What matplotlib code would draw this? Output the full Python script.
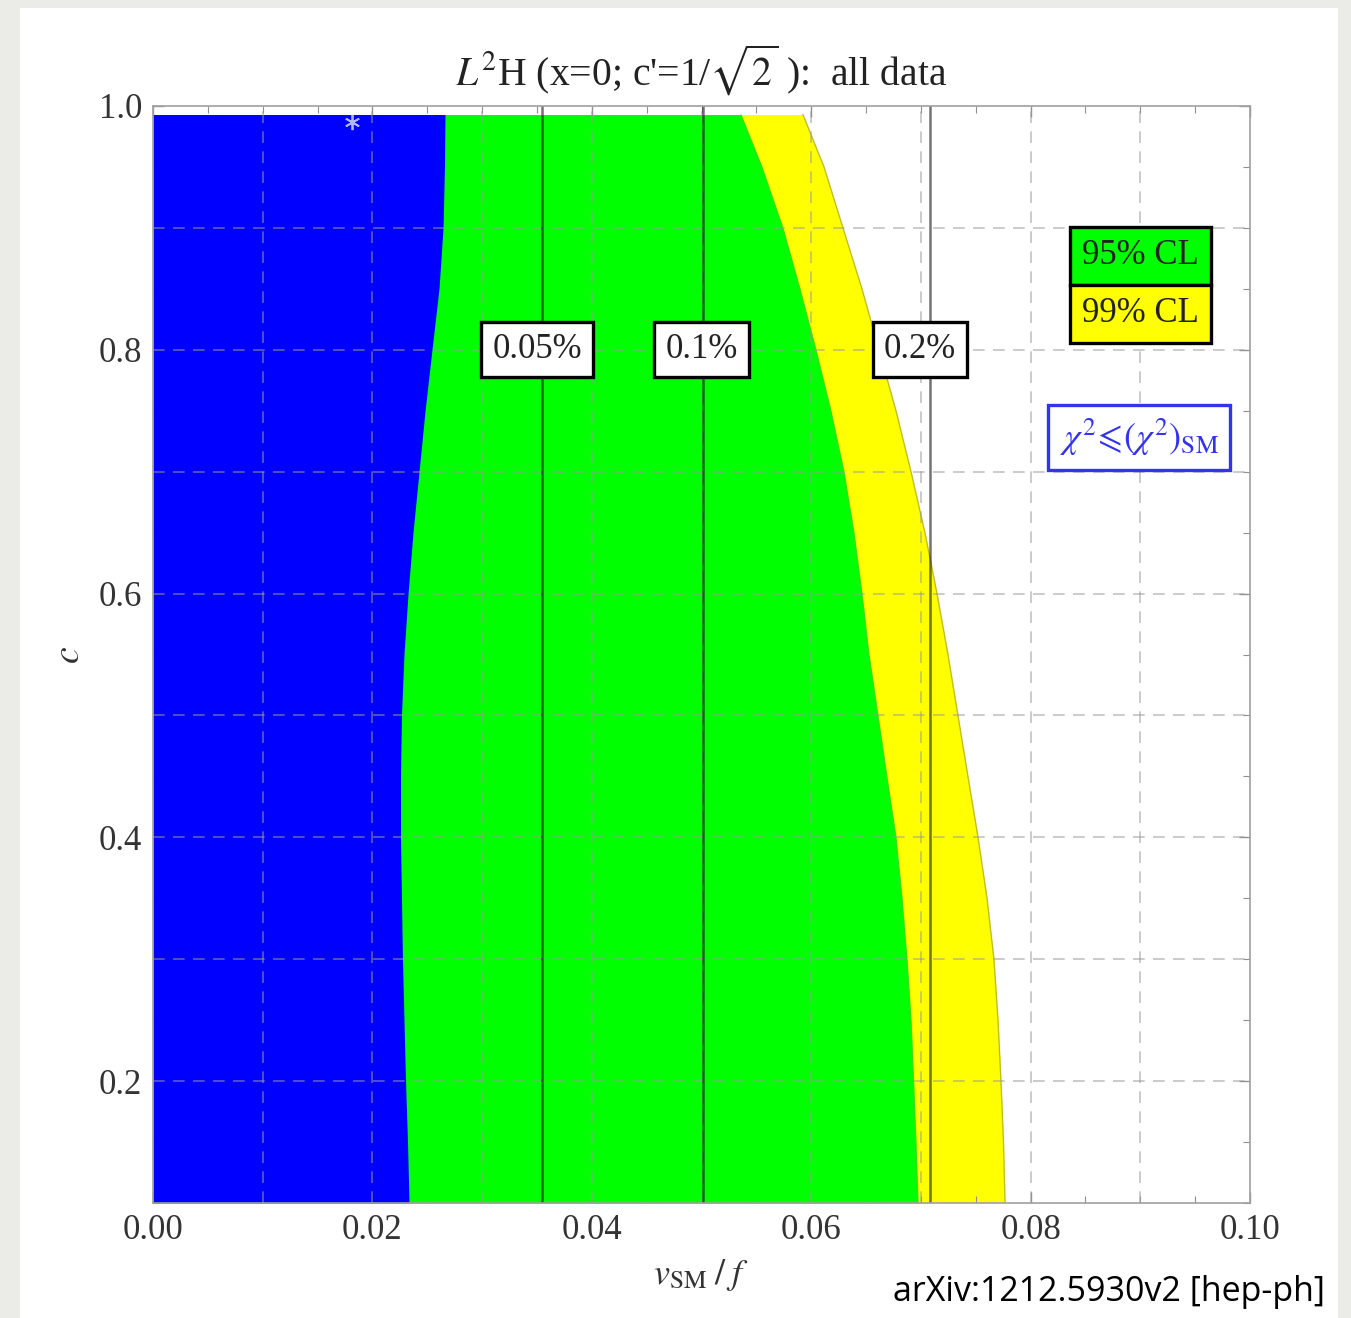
import numpy as np
import matplotlib
matplotlib.use("Agg")
import matplotlib.pyplot as plt
from matplotlib.patches import Rectangle
from matplotlib.ticker import MultipleLocator, FormatStrFormatter

plt.rcParams['font.family'] = ['Liberation Serif', 'DejaVu Serif']
plt.rcParams['mathtext.fontset'] = 'stix'

# Region with chi^2 <= (chi^2)_SM : right edge v_SM/f as a function of c
c_sm = [0.993, 0.95, 0.90, 0.85, 0.80, 0.75, 0.70, 0.65, 0.60, 0.55,
        0.50, 0.45, 0.40, 0.35, 0.30, 0.25, 0.20, 0.15, 0.10]
x_sm = [0.02662, 0.02657, 0.02644, 0.02607, 0.02543, 0.02480, 0.02425, 0.02370, 0.02325, 0.02288,
        0.02265, 0.02256, 0.02256, 0.02265, 0.02274, 0.02288, 0.02302, 0.02320, 0.02334]

# 95% CL allowed region : right edge
c_95 = [0.993, 0.95, 0.90, 0.85, 0.80, 0.75, 0.70, 0.65, 0.60, 0.55,
        0.50, 0.45, 0.40, 0.35, 0.30, 0.25, 0.20, 0.15, 0.10]
x_95 = [0.05360, 0.05552, 0.05743, 0.05898, 0.06044, 0.06180, 0.06299, 0.06390, 0.06463, 0.06527,
        0.06609, 0.06690, 0.06773, 0.06828, 0.06873, 0.06910, 0.06933, 0.06955, 0.06974]

# 99% CL allowed region : right edge
c_99 = [0.993, 0.95, 0.90, 0.85, 0.80, 0.75, 0.70, 0.65, 0.60, 0.55,
        0.50, 0.45, 0.40, 0.35, 0.30, 0.25, 0.20, 0.15, 0.10]
x_99 = [0.05925, 0.06117, 0.06290, 0.06463, 0.06618, 0.06773, 0.06910, 0.07037, 0.07147, 0.07247,
        0.07338, 0.07429, 0.07521, 0.07603, 0.07666, 0.07703, 0.07730, 0.07753, 0.07767]

# Fine-tuning contours (vertical) and their labels
tuning_x = [0.0355, 0.0501, 0.0708]
tuning_labels = ['0.05%', '0.1%', '0.2%']
tuning_label_x = [0.0350, 0.0500, 0.0699]
tuning_label_c = 0.80

# Best-fit point
best_x, best_c = 0.0181, 0.987

x_ticks = [0.00, 0.02, 0.04, 0.06, 0.08, 0.10]
c_ticks = [0.2, 0.4, 0.6, 0.8, 1.0]

W, H = 1351, 1318
fig = plt.figure(figsize=(W / 100, H / 100), dpi=100)
fig.patch.set_facecolor('#ebebe7')
fig.add_artist(Rectangle((20 / W, 0), (1338 - 20) / W, (H - 8) / H,
                         transform=fig.transFigure, facecolor='white',
                         edgecolor='none', zorder=0))

ax = fig.add_axes([153 / W, (H - 1203) / H, (1250 - 153) / W, (1203 - 106) / H])
ax.set_xlim(0.0, 0.10)
ax.set_ylim(0.1, 1.0)

ax.fill_betweenx(c_99, 0, x_99, color='#ffff00', lw=0, zorder=1)
ax.fill_betweenx(c_95, 0, x_95, color='#00ff00', lw=0, zorder=2)
ax.fill_betweenx(c_sm, 0, x_sm, color='#0000ff', lw=0, zorder=3)
ax.plot(x_99, c_99, color='#a8a030', lw=1.0, alpha=0.7, zorder=3)
ax.plot(x_95, c_95, color='#70c020', lw=0.8, alpha=0.6, zorder=3)

# dashed grid
for gx in np.arange(0.01, 0.1, 0.01):
    ax.axvline(gx, color='#9a9a9a', lw=1.2, ls=(0, (7, 5)), alpha=0.6, zorder=4)
for gc in np.arange(0.2, 1.0, 0.1):
    ax.axhline(gc, color='#9a9a9a', lw=1.2, ls=(0, (7, 5)), alpha=0.6, zorder=4)

for tx in tuning_x:
    ax.axvline(tx, color='black', lw=1.8, alpha=0.55, zorder=5)
for lx, lab in zip(tuning_label_x, tuning_labels):
    ax.text(lx, tuning_label_c, lab, ha='center', va='center', fontsize=25,
            color='#222222', zorder=7,
            bbox=dict(boxstyle='square,pad=0.32', fc='white', ec='black', lw=2.4))

ax.plot([best_x], [best_c], marker=(6, 2, 0), ms=11, color='#b0b8ff', mew=1.3,
        ls='none', zorder=6)

# legend boxes
ax.add_patch(Rectangle((0.836, 0.837), 0.128, 0.053, transform=ax.transAxes,
                       fc='#00ff00', ec='black', lw=2.4, zorder=8))
ax.add_patch(Rectangle((0.836, 0.784), 0.128, 0.053, transform=ax.transAxes,
                       fc='#ffff00', ec='black', lw=2.4, zorder=8))
ax.text(0.900, 0.8635, '95% CL', transform=ax.transAxes, ha='center', va='center',
        fontsize=25, color='#222222', zorder=9)
ax.text(0.900, 0.8105, '99% CL', transform=ax.transAxes, ha='center', va='center',
        fontsize=25, color='#222222', zorder=9)
ax.add_patch(Rectangle((0.816, 0.668), 0.166, 0.059, transform=ax.transAxes,
                       fc='white', ec='#3333ee', lw=2.4, zorder=8))
ax.text(0.899, 0.6975, r'$\chi^2\!\leqslant\!(\chi^2)_{\mathrm{SM}}$', transform=ax.transAxes,
        ha='center', va='center', fontsize=26, color='#3333ee', zorder=9)

for s in ax.spines.values():
    s.set_color('#a0a0a0')
    s.set_linewidth(1.2)
    s.set_zorder(10)

ax.set_xticks(x_ticks)
ax.set_yticks(c_ticks)
ax.xaxis.set_major_formatter(FormatStrFormatter('%.2f'))
ax.yaxis.set_major_formatter(FormatStrFormatter('%.1f'))
ax.xaxis.set_minor_locator(MultipleLocator(0.005))
ax.yaxis.set_minor_locator(MultipleLocator(0.05))
ax.tick_params(which='both', direction='in', top=True, right=True, color='#909090',
               labelsize=25, labelcolor='#333333')
ax.tick_params(which='major', length=8, width=1.0, pad=8)
ax.tick_params(which='minor', length=5, width=0.8)

fig.text(701 / W, 1 - 70 / H, r"$L^2$H (x=0; c'=1/$\sqrt{2}$ ):  all data",
         ha='center', va='center', fontsize=28.5, color='#222222')
fig.text(701 / W, 1 - 1275 / H, r'$v_{\mathrm{SM}}\;/\;f$', ha='center', va='center',
         fontsize=26, color='#333333')
fig.text(70 / W, 1 - 655 / H, r'$c$', ha='center', va='center', rotation=90,
         fontsize=27, color='#333333')
fig.text(1325 / W, 1 - 1292 / H, 'arXiv:1212.5930v2 [hep-ph]', ha='right', va='center',
         fontsize=24.5, color='black', family=['Open Sans', 'DejaVu Sans'])

fig.savefig('out.png', dpi=100, facecolor=fig.get_facecolor())
